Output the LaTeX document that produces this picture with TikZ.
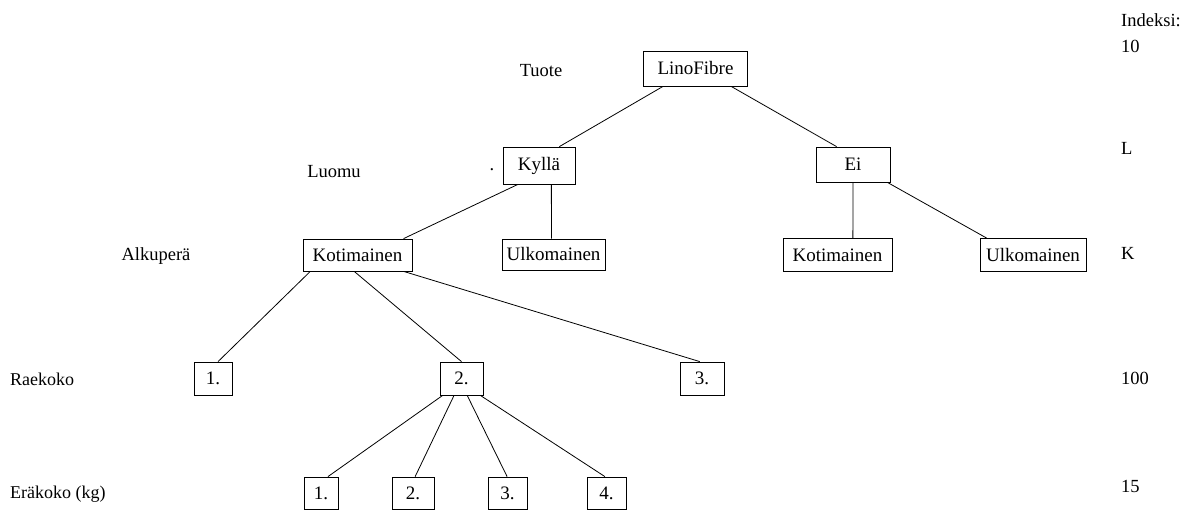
\documentclass[tikz,border=0pt]{standalone}
\usepackage{fontspec}
\setmainfont{Liberation Serif}
\usetikzlibrary{calc}
\begin{document}
\begin{tikzpicture}[x=1pt,y=-1pt,
  box/.style={draw,line width=0.8pt,inner sep=0pt,minimum height=33pt,font=\fontsize{19}{22}\selectfont},
  lbl/.style={inner sep=0pt,font=\fontsize{18.5}{22}\selectfont},
  lbls/.style={inner sep=0pt,font=\fontsize{18}{21}\selectfont},
  edge/.style={line width=0.8pt}]
\useasboundingbox (0,0) rectangle (1194,510);
% tree nodes
\node[box,minimum width=104pt,minimum height=35pt] (lino) at (695.5,68.5) {LinoFibre};
\node[box,minimum width=72pt,minimum height=37pt] (kylla) at (539,165.5) {Kyllä};
\node[box,minimum width=74pt,minimum height=35pt] (ei) at (853,164.5) {Ei};
\node[box,minimum width=109pt,minimum height=32pt] (kotL) at (357.5,255) {Kotimainen};
\node[box,minimum width=103pt,minimum height=31pt] (ulkL) at (553.5,254.5) {Ulkomainen};
\node[box,minimum width=109pt] (kotR) at (837.5,255) {Kotimainen};
\node[box,minimum width=106pt] (ulkR) at (1033,255) {Ulkomainen};
\node[box,minimum width=38pt] (r1) at (213,378.5) {1.};
\node[box,minimum width=43pt] (r2) at (461.5,378.5) {2.};
\node[box,minimum width=44pt] (r3) at (702,378.5) {3.};
\node[box,minimum width=34pt,minimum height=32pt] (e1) at (321,493) {1.};
\node[box,minimum width=42pt,minimum height=32pt] (e2) at (413,493) {2.};
\node[box,minimum width=39pt,minimum height=32pt] (e3) at (507.5,493) {3.};
\node[box,minimum width=39pt,minimum height=32pt] (e4) at (606.5,493) {4.};
% level labels
\node[lbl] (tuote) at (541,71) {Tuote};
\node[lbl] (luomu) at (334,172) {Luomu};
\node[lbl] (dot) at (492,170) {.};
\node[lbl] (alku) at (156,256) {Alkuperä};
\node[lbls,anchor=west] (raek) at (10,379) {Raekoko};
\node[lbls,anchor=west] (erak) at (10,494) {Eräkoko (kg)};
\node[lbl,anchor=west] (ind) at (1121,20) {Indeksi:};
\node[lbl,anchor=west] (i10) at (1121,46) {10};
\node[lbl,anchor=west] (iL) at (1121,148) {L};
\node[lbl,anchor=west] (iK) at (1121,253) {K};
\node[lbl,anchor=west] (i100) at (1121,378) {100};
\node[lbl,anchor=west] (i15) at (1121,486) {15};
% connectors
\draw[edge] ($(lino.south west)!0.19!(lino.south east)$) -- ($(kylla.north west)!0.78!(kylla.north east)$);
\draw[edge] ($(lino.south west)!0.84!(lino.south east)$) -- ($(ei.north west)!0.28!(ei.north east)$);
\draw[edge] ($(kylla.south west)!0.21!(kylla.south east)$) -- ($(kotL.north west)!0.92!(kotL.north east)$);
\draw[edge] ($(kylla.south west)!0.67!(kylla.south east)$) -- ($(ulkL.north west)!0.48!(ulkL.north east)$);
\draw[edge] ($(ei.south west)!0.5!(ei.south east)$) -- ($(kotR.north west)!0.64!(kotR.north east)$);
\draw[edge] ($(ei.south west)!0.96!(ei.south east)$) -- ($(ulkR.north west)!0.066!(ulkR.north east)$);
\draw[edge] ($(kotL.south west)!0.07!(kotL.south east)$) -- ($(r1.north west)!0.63!(r1.north east)$);
\draw[edge] ($(kotL.south west)!0.47!(kotL.south east)$) -- ($(r2.north west)!0.5!(r2.north east)$);
\draw[edge] ($(kotL.south west)!0.92!(kotL.south east)$) -- ($(r3.north west)!0.45!(r3.north east)$);
\draw[edge] ($(r2.south west)!0.07!(r2.south east)$) -- ($(e1.north west)!0.7!(e1.north east)$);
\draw[edge] ($(r2.south west)!0.33!(r2.south east)$) -- ($(e2.north west)!0.55!(e2.north east)$);
\draw[edge] ($(r2.south west)!0.63!(r2.south east)$) -- ($(e3.north west)!0.49!(e3.north east)$);
\draw[edge] ($(r2.south west)!0.93!(r2.south east)$) -- ($(e4.north west)!0.46!(e4.north east)$);
\end{tikzpicture}
\end{document}
